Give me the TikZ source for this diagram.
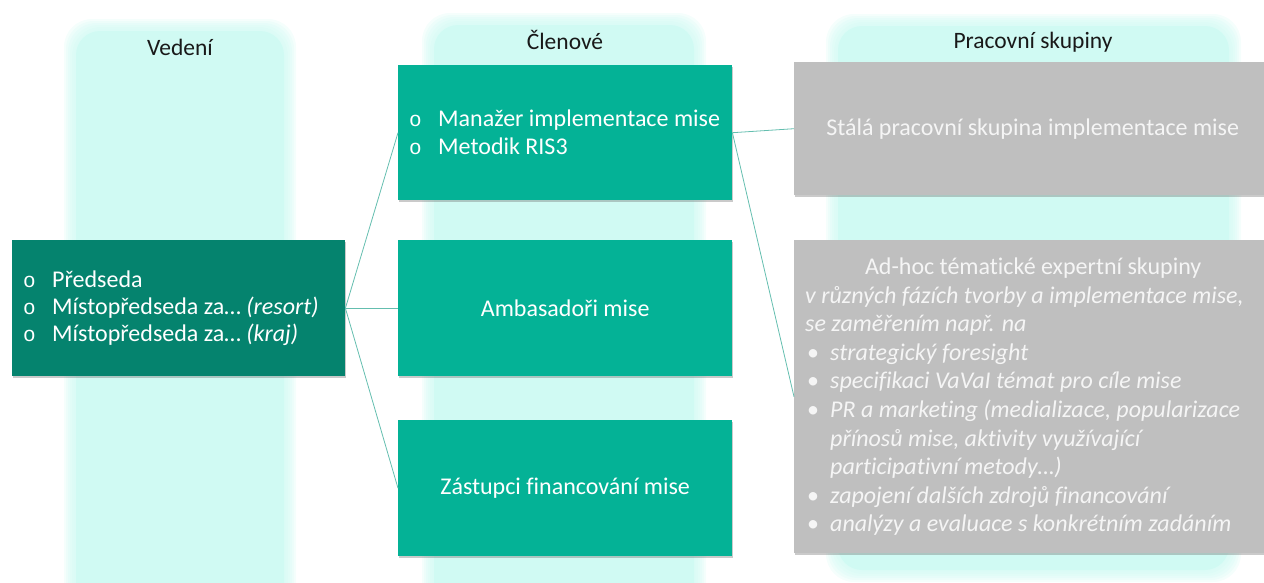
\documentclass[tikz,border=0pt]{standalone}
\usepackage{fontspec}
\setmainfont{Carlito}[Ligatures=NoCommon]
\newfontfamily\bulletfont{Liberation Mono}
\usetikzlibrary{shadows}
\definecolor{colbg}{RGB}{208,250,243}
\definecolor{darkteal}{RGB}{5,131,110}
\definecolor{midteal}{RGB}{4,178,150}
\definecolor{graybox}{RGB}{191,191,191}
\definecolor{linecol}{RGB}{100,190,175}
\definecolor{graytext}{RGB}{245,245,245}
\newcommand\softcolumn[4]{%
  \foreach \e in {12,10,8,6,4,2}{%
    \fill[colbg, opacity=0.22, rounded corners=28pt] (#1-\e,#2-\e) rectangle (#3+\e,#4+\e);}%
  \fill[colbg, rounded corners=24pt] (#1,#2) rectangle (#3,#4);}
\newcommand\ob{\makebox[29pt][l]{\bulletfont\fontsize{21}{21}\selectfont o}}
\newcommand\db{\makebox[25pt][l]{\hspace{2pt}•}}
\begin{document}
\begin{tikzpicture}[x=1pt,y=-1pt,
  head/.style={font=\fontsize{23.5}{28}\selectfont, text=black!90, inner sep=0pt},
  box/.style={anchor=north west, inner sep=0pt, draw=none,
    drop shadow={shadow xshift=1pt, shadow yshift=-2pt, opacity=0.35, fill=black!60}},
  tealbox/.style={box, fill=midteal, minimum width=334pt, text=white,
    font=\fontsize{24}{28}\selectfont},
  graybx/.style={box, fill=graybox, minimum width=478pt, text=graytext,
    font=\fontsize{24}{28}\selectfont},
  listtext/.style={anchor=west, inner sep=0pt, align=left},
  conn/.style={draw=linecol, line width=0.8pt}
]
\useasboundingbox (0,0) rectangle (1264,582);
\softcolumn{76}{31}{284}{610}
\softcolumn{434}{25}{694}{610}
\softcolumn{838}{26}{1229}{570}

\node[head] (hv) at (180,47) {Vedení};
\node[head] (hc) at (565,40) {Členové};
\node[head] (hp) at (1033,42) {Pracovní skupiny};

\node[box, fill=darkteal, minimum width=333pt, minimum height=136pt] (lead) at (12,240) {};
\node[tealbox, minimum height=135pt] (m1) at (398,65) {};
\node[tealbox, minimum height=136pt] (m2) at (398,240) {Ambasadoři mise};
\node[tealbox, minimum height=136pt] (m3) at (398,420) {Zástupci financování mise};
\node[graybx, minimum height=133pt] (g1) at (794,62) {\hspace*{-1pt}Stálá pracovní skupina implementace mise};
\node[graybx, minimum height=313pt] (g2) at (794,240) {};

\node[listtext, text=white, font=\fontsize{24}{27}\selectfont] (leadtext) at ([xshift=11pt]lead.west)
  {\ob Předseda\\ \ob Místopředseda za… \textit{(resort)}\\ \ob Místopředseda za… \textit{(kraj)}};
\node[listtext, text=white, font=\fontsize{24}{28}\selectfont] (m1text) at ([xshift=11pt]m1.west)
  {\ob Manažer implementace mise\\ \ob Metodik RIS3};
\node[listtext, text=graytext, font=\fontsize{24}{28.6}\selectfont] (g2text) at ([xshift=11pt]g2.west)
  {\makebox[456pt][c]{Ad-hoc tématické expertní skupiny}\\
   \textit{v různých fázích tvorby a implementace mise,}\\
   \textit{se zaměřením např. na}\\
   \db\textit{strategický foresight}\\
   \db\textit{specifikaci VaVaI témat pro cíle mise}\\
   \db\textit{PR a marketing (medializace, popularizace}\\
   \hspace*{25pt}\textit{přínosů mise, aktivity využívající}\\
   \hspace*{25pt}\textit{participativní metody…)}\\
   \db\textit{zapojení dalších zdrojů financování}\\
   \db\textit{analýzy a evaluace s konkrétním zadáním}};

\draw[conn] (lead.east) -- (m1.west);
\draw[conn] (lead.east) -- (m2.west);
\draw[conn] (lead.east) -- (m3.west);
\draw[conn] (m1.east) -- (g1.west);
\draw[conn] (m1.east) -- (g2.west);
\end{tikzpicture}
\end{document}
